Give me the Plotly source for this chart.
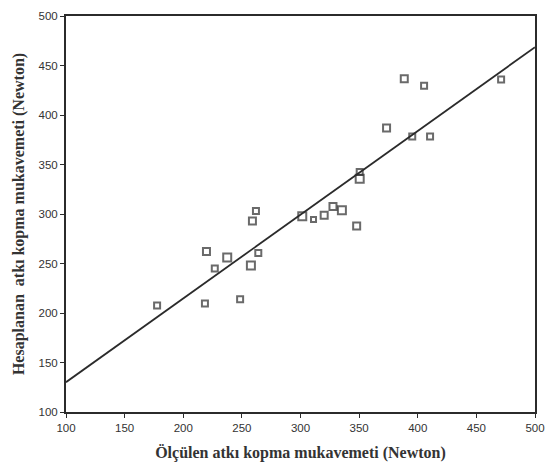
import plotly.graph_objects as go

# Measured (x) vs computed (y) weft breaking strength, Newton
measured = [177.7, 218.5, 248.5, 219.8, 237.5, 226.9, 264.0, 257.7, 262.0, 259.0,
            301.5, 311.1, 320.2, 327.7, 335.3, 347.9, 350.5, 350.5, 388.5, 405.4,
            373.4, 395.3, 410.5, 471.1]
computed = [207.5, 209.5, 214.0, 262.0, 256.0, 245.0, 260.5, 248.0, 303.0, 293.0,
            297.7, 294.4, 298.7, 307.6, 303.7, 287.8, 342.5, 335.5, 436.6, 429.6,
            386.9, 378.3, 378.3, 435.9]
marker_sizes = [6, 6, 6, 7, 8, 6, 6, 8, 6, 7,
                8, 5, 7, 7, 8, 7, 6, 8, 7, 6,
                7, 6, 6, 6]

# Fit line endpoints
fit_x = [100, 500]
fit_y = [130.1, 468.5]

tick_vals = [100, 150, 200, 250, 300, 350, 400, 450, 500]

ink = "#2b2b2b"

fig = go.Figure()
fig.add_trace(go.Scatter(
    x=fit_x, y=fit_y, mode="lines",
    line=dict(color=ink, width=1.8), hoverinfo="skip", showlegend=False))
fig.add_trace(go.Scatter(
    x=measured, y=computed, mode="markers",
    marker=dict(symbol="square-open", size=marker_sizes,
                color=ink, line=dict(color=ink, width=2)),
    showlegend=False))

axis_common = dict(
    range=[100, 500], tickvals=tick_vals, ticks="outside", ticklen=4,
    tickwidth=1, tickcolor=ink, showgrid=False, zeroline=False,
    showline=True, linecolor=ink, linewidth=2, mirror=True,
    ticklabeloverflow="allow",
    tickfont=dict(family="Liberation Sans, Arial", size=11.5, color="#333333"),
)

fig.update_layout(
    width=555, height=472,
    margin=dict(l=66, r=14, t=10, b=60),
    paper_bgcolor="white", plot_bgcolor="white",
    xaxis=dict(**axis_common,
               title=dict(text="Ölçülen atkı kopma mukavemeti (Newton)",
                          font=dict(family="Liberation Serif, Times New Roman", size=16,
                                    color="#333333", weight="bold"),
                          standoff=14)),
    yaxis=dict(**axis_common,
               title=dict(text="Hesaplanan  atkı kopma mukavemeti (Newton)",
                          font=dict(family="Liberation Serif, Times New Roman", size=16,
                                    color="#333333", weight="bold"),
                          standoff=10)),
)

fig.write_html("out.html",
               config={"displayModeBar": False},
               post_script="document.body.style.margin='0';document.body.style.overflow='hidden';")
